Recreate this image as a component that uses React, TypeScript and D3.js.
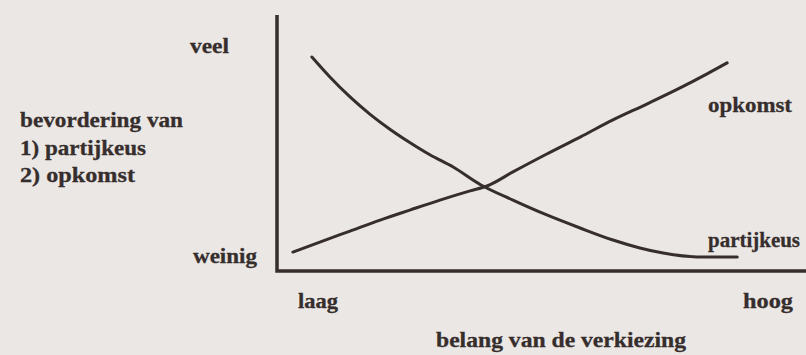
import * as d3 from 'd3';

// belang van de verkiezing: 0 = laag, 100 = hoog
// bevordering: 0 = weinig, 100 = veel
const partijkeusX = [6.6, 10.0, 13.8, 17.6, 21.4, 25.1, 28.9, 33.3, 38.4, 44.6, 51.0, 57.3, 63.5, 68.6, 73.0, 79.4, 87.0];
const partijkeusY = [83.6, 75.8, 68.0, 61.2, 55.3, 50.2, 45.4, 40.6, 33.8, 27.7, 21.9, 16.8, 12.1, 9.0, 7.0, 5.5, 5.5];

const opkomstX = [3.0, 8.1, 13.8, 19.5, 25.1, 30.8, 36.5, 39.7, 44.6, 51.0, 57.3, 63.5, 69.9, 76.2, 81.3, 85.1];
const opkomstY = [7.4, 11.3, 15.6, 19.9, 23.8, 27.7, 31.3, 33.2, 38.7, 45.7, 52.3, 59.0, 65.2, 71.5, 77.0, 81.3];

const yEndLabels = ['weinig', 'veel'];
const xEndLabels = ['laag', 'hoog'];
const legendLines = ['bevordering van', '1) partijkeus', '2) opkomst'];
const seriesNames = ['partijkeus', 'opkomst'];
const xTitle = 'belang van de verkiezing';

const WIDTH = 806;
const HEIGHT = 355;
const INK = '#362e2d';
const PAPER = '#ebe7e4';

const x = d3.scaleLinear().domain([0, 100]).range([277, 806]);
const y = d3.scaleLinear().domain([0, 100]).range([271, 15]);

const line = d3.line<[number, number]>()
    .x((d) => x(d[0]))
    .y((d) => y(d[1]))
    .curve(d3.curveMonotoneX);

const zip = (xs: number[], ys: number[]) => xs.map((v, i) => [v, ys[i]] as [number, number]);

// label placement: [left, baseline, width]
const labels: [string, number, number, number][] = [
    [yEndLabels[1], 190, 53, 39],
    [yEndLabels[0], 193, 263, 64],
    [xEndLabels[0], 298, 308, 40],
    [xEndLabels[1], 743, 308, 50],
    [legendLines[0], 20, 127, 163],
    [legendLines[1], 20, 155, 126],
    [legendLines[2], 20, 182, 115],
    [seriesNames[1], 708, 112, 84],
    [seriesNames[0], 708, 247, 92],
    [xTitle, 436, 347, 250],
];

export default function App() {
    const series = [zip(partijkeusX, partijkeusY), zip(opkomstX, opkomstY)];

    return (
        <svg width={WIDTH} height={HEIGHT}
            style={{ position: 'absolute', left: 0, top: 0, display: 'block' }}>
            <rect width={WIDTH} height={HEIGHT} fill={PAPER} />

            {/* axes */}
            <path d={`M${x(0)},${y(100)}V${y(0)}H${x(100)}`}
                fill="none" stroke={INK} strokeWidth={3.5} strokeLinejoin="miter" />

            {series.map((pts, i) => (
                <path key={i} d={line(pts) || ''} fill="none" stroke={INK}
                    strokeWidth={3} strokeLinecap="round" strokeLinejoin="round" />
            ))}

            <g fontFamily="'Liberation Serif', serif" fontWeight="bold" fontSize={21.5} fill={INK}
                stroke={INK} strokeWidth={0.3}>
                {labels.map(([t, lx, ly, w]) => (
                    <text key={t + lx} x={lx} y={ly} textLength={w} lengthAdjust="spacingAndGlyphs">{t}</text>
                ))}
            </g>
        </svg>
    );
}
